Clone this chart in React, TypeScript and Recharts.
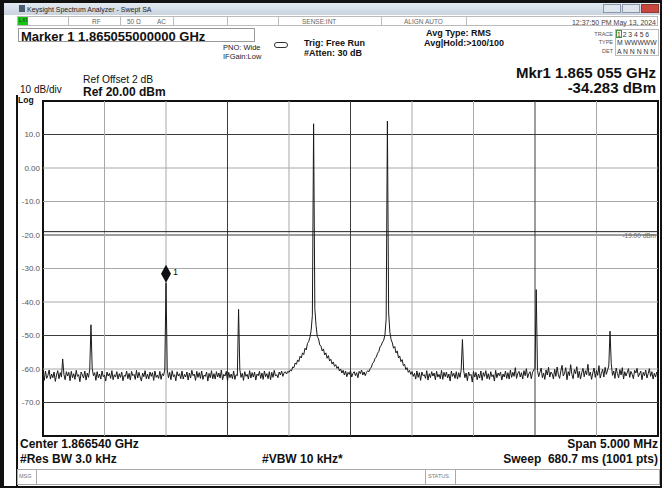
import React from 'react';
import {
  LineChart,
  Line,
  XAxis,
  YAxis,
  ReferenceLine,
  ReferenceArea,
  ReferenceDot,
} from 'recharts';

// sweep: center 1.866540 GHz, span 5 MHz, shown in MHz
const FREQ_START = 1864.04;
const FREQ_STOP = 1869.04;
const FREQ_STEP = 0.01;

// trace 1 levels in dBm, one per sweep step (501 steps)
const levels = [
  -61.2, -63.4, -60.6, -62.8, -61.9, -60.3, -63.0, -61.5, -62.6, -60.9, -63.7, -61.8, -60.5, -62.9, -61.1, -62.4, -57.0, -61.6, -63.2, -60.8,
  -62.1, -61.0, -63.5, -60.7, -62.6, -61.4, -63.1, -60.4, -62.2, -61.7, -63.8, -60.9, -61.8, -62.7, -60.6, -63.3, -61.2, -62.5, -60.1, -46.8,
  -59.8, -62.0, -61.1, -63.4, -60.8, -62.6, -61.5, -63.0, -60.6, -62.3, -61.8, -63.6, -60.9, -62.1, -61.3, -62.8, -60.5, -63.2, -61.7, -62.4,
  -60.8, -63.0, -61.4, -62.5, -60.9, -63.5, -61.9, -62.2, -60.6, -62.9, -61.3, -63.3, -60.7, -62.0, -61.6, -63.1, -60.4, -62.7, -61.0, -62.4,
  -63.6, -61.2, -62.3, -60.5, -62.9, -61.5, -63.0, -60.9, -62.2, -61.1, -63.4, -60.6, -62.5, -61.8, -62.8, -60.7, -63.1, -61.4, -62.0, -60.3,
  -34.283, -60.2, -62.6, -61.0, -63.2, -60.5, -62.3, -61.7, -63.5, -60.8, -62.1, -61.4, -62.9, -60.6, -63.0, -61.6, -62.4, -60.9, -63.3, -61.2,
  -62.7, -60.4, -62.0, -61.5, -63.4, -60.7, -62.5, -61.1, -62.8, -60.6, -63.1, -61.8, -62.2, -60.9, -63.6, -61.3, -62.6, -60.5, -62.9, -61.4,
  -63.0, -60.8, -62.4, -61.2, -62.7, -60.3, -63.2, -61.6, -62.1, -60.7, -63.5, -61.0, -62.6, -61.5, -62.9, -60.6, -63.1, -61.7, -62.0, -42.2,
  -60.1, -62.5, -61.3, -63.4, -60.8, -62.2, -61.6, -63.0, -60.5, -62.7, -61.1, -62.4, -60.9, -63.3, -61.5, -62.0, -60.7, -62.8, -61.2, -63.1,
  -60.6, -62.3, -61.4, -62.9, -60.8, -63.2, -61.0, -62.5, -60.4, -62.1, -61.7, -62.6, -60.9, -61.8, -60.6, -62.2, -61.1, -60.8, -61.5, -60.7,
  -61.0, -60.3, -60.6, -59.4, -59.6, -58.2, -58.6, -57.3, -57.8, -56.2, -56.7, -55.2, -55.7, -53.8, -54.3, -52.4, -51.8, -50.6, -48.5, -44.0,
  13.2, -42.0, -47.0, -50.3, -51.0, -52.8, -53.2, -54.6, -54.0, -55.8, -55.2, -56.8, -56.0, -57.6, -57.1, -58.5, -57.9, -59.2, -58.7, -59.8,
  -59.3, -60.6, -60.0, -61.2, -60.4, -61.8, -60.6, -62.3, -61.0, -61.6, -60.5, -62.4, -61.3, -60.8, -62.0, -61.1, -62.6, -60.7, -61.4, -60.3,
  -61.8, -60.9, -62.0, -61.0, -60.5, -60.8, -59.9, -59.4, -58.3, -57.9, -56.8, -56.4, -55.3, -54.8, -53.4, -52.9, -52.0, -51.4, -49.8, -45.0,
  14.0, -43.0, -49.0, -51.2, -52.2, -53.8, -53.3, -55.2, -54.6, -56.7, -56.1, -57.8, -57.2, -59.0, -58.6, -60.2, -59.6, -61.0, -60.4, -61.6,
  -60.8, -62.2, -61.3, -63.0, -60.6, -62.5, -61.1, -63.4, -60.9, -62.0, -61.7, -62.8, -60.5, -63.3, -61.4, -62.6, -60.8, -62.1, -61.2, -63.2,
  -60.7, -62.4, -61.6, -62.9, -60.4, -63.1, -61.0, -62.3, -60.9, -62.7, -61.5, -63.6, -60.6, -62.2, -61.3, -62.8, -60.8, -63.0, -61.1, -62.5,
  -60.2, -51.2, -60.5, -62.6, -61.2, -63.5, -60.9, -62.0, -61.6, -63.9, -60.7, -62.4, -61.0, -63.2, -61.5, -62.7, -60.6, -63.4, -61.1, -62.2,
  -60.5, -62.9, -61.4, -63.1, -60.8, -62.3, -61.7, -63.6, -60.4, -62.6, -61.2, -62.0, -60.9, -63.3, -61.5, -62.4, -60.6, -62.8, -61.1, -63.0,
  -60.3, -62.5, -61.0, -62.2, -59.6, -62.8, -61.3, -60.7, -62.4, -61.1, -63.0, -60.5, -62.0, -59.9, -62.6, -61.4, -60.8, -62.9, -61.0, -60.2,
  -59.8, -36.3, -60.4, -62.3, -61.0, -59.7, -62.6, -61.2, -63.1, -60.3, -61.8, -59.5, -62.4, -60.9, -61.5, -63.0, -60.1, -62.2, -59.4, -61.7,
  -62.8, -60.6, -58.9, -62.1, -61.3, -59.6, -63.2, -60.8, -62.0, -58.7, -61.6, -62.9, -60.2, -61.4, -59.3, -62.6, -60.7, -63.0, -61.1, -59.8,
  -62.3, -60.5, -61.7, -58.6, -62.0, -60.9, -63.1, -61.2, -59.7, -62.5, -60.4, -61.9, -59.0, -62.7, -61.3, -60.1, -62.4, -59.5, -61.6, -60.3,
  -59.1, -48.7, -58.4, -61.9, -60.6, -62.8, -59.7, -61.4, -62.6, -60.2, -61.8, -59.6, -63.0, -60.8, -62.1, -61.0, -59.9, -62.5, -60.7, -61.6,
  -62.9, -60.4, -61.2, -59.8, -62.3, -61.5, -60.6, -63.2, -61.0, -62.0, -60.3, -62.7, -61.4, -59.9, -62.2, -60.8, -63.0, -61.3, -62.4, -60.9,
  -61.8,
];

const yTicks = [10, 0, -10, -20, -30, -40, -50, -60, -70];
const yTickLabels = ['10.0', '0.00', '-10.0', '-20.0', '-30.0', '-40.0', '-50.0', '-60.0', '-70.0'];
const yLineDark = [true, false, false, true, false, false, true, false, true];

const divFreqs = [1864.54, 1865.04, 1865.54, 1866.04, 1866.54, 1867.04, 1867.54, 1868.04, 1868.54];
const divDark = [false, false, true, false, true, false, false, true, false];

const markerIndex = 100;
const markerLevel = -34.283;
const threshold = -19;

const data = levels.map((v, i) => ({ f: FREQ_START + i * FREQ_STEP, v }));

const txt = (x: number, y: number, s: string, style: React.CSSProperties = {}) => (
  <div style={{ position: 'absolute', left: x, top: y, whiteSpace: 'nowrap', lineHeight: 1, ...style }}>{s}</div>
);

const rtxt = (right: number, y: number, s: string, style: React.CSSProperties = {}) => (
  <div style={{ position: 'absolute', right, top: y, whiteSpace: 'pre', lineHeight: 1, ...style }}>{s}</div>
);

const MarkerShape = (props: any) => {
  const { cx, cy } = props;
  return (
    <g>
      <polygon points={`${cx},${cy - 18} ${cx + 5},${cy - 9} ${cx},${cy} ${cx - 5},${cy - 9}`} fill="#111" />
      <text x={cx + 7} y={cy - 8} fontSize={9} fill="#111" fontFamily="Liberation Sans, Arial">1</text>
    </g>
  );
};

const App = () => {
  return (
    <div
      style={{
        position: 'absolute',
        left: 0,
        top: 0,
        width: 662,
        height: 488,
        background: '#fff',
        overflow: 'hidden',
        fontFamily: '"Liberation Sans", Arial, sans-serif',
        color: '#111',
      }}
    >
      {/* window frame */}
      <div style={{ position: 'absolute', left: 0, top: 0, width: 662, height: 3, background: '#111' }} />
      <div style={{ position: 'absolute', left: 0, top: 0, width: 4, height: 488, background: '#111' }} />
      <div style={{ position: 'absolute', left: 660, top: 0, width: 2, height: 488, background: '#111' }} />
      <div style={{ position: 'absolute', left: 0, top: 486, width: 662, height: 2, background: '#111' }} />

      {/* title bar */}
      <div
        style={{
          position: 'absolute',
          left: 4,
          top: 3,
          width: 656,
          height: 12,
          background: 'linear-gradient(#e4eaf2, #c8d2de)',
        }}
      />
      <div style={{ position: 'absolute', left: 19, top: 5, width: 6, height: 7, background: '#4a5a70' }} />
      {txt(27, 6, 'Keysight Spectrum Analyzer - Swept SA', { fontSize: 7, color: '#222' })}
      <div style={{ position: 'absolute', left: 603, top: 4, width: 18, height: 9, background: '#dfe5ee', border: '1px solid #8a97a8', boxSizing: 'border-box' }} />
      <div style={{ position: 'absolute', left: 622, top: 4, width: 18, height: 9, background: '#dfe5ee', border: '1px solid #8a97a8', boxSizing: 'border-box' }} />
      <div style={{ position: 'absolute', left: 641, top: 4, width: 18, height: 9, background: '#c9463d', border: '1px solid #8a3a33', boxSizing: 'border-box' }} />

      {/* status row */}
      <div style={{ position: 'absolute', left: 17, top: 16, width: 641, height: 10, border: '1px solid #bbb', boxSizing: 'border-box' }} />
      <div style={{ position: 'absolute', left: 18, top: 17, width: 10, height: 8, background: '#19c419' }} />
      {txt(19, 18, 'LXI', { fontSize: 5.5, color: '#114411' })}
      {[68, 120, 173, 227, 278, 381, 466].map((x) => (
        <div key={x} style={{ position: 'absolute', left: x, top: 16, width: 1, height: 10, background: '#bbb' }} />
      ))}
      {txt(92, 18.5, 'RF', { fontSize: 6.5, color: '#666' })}
      {txt(127, 18.5, '50 Ω', { fontSize: 6.5, color: '#666' })}
      {txt(157, 18.5, 'AC', { fontSize: 6.5, color: '#666' })}
      {txt(302, 18.5, 'SENSE:INT', { fontSize: 6.5, color: '#666' })}
      {txt(404, 18.5, 'ALIGN AUTO', { fontSize: 6.5, color: '#666' })}
      {rtxt(6, 18.5, '12:37:50 PM May 13, 2024', { fontSize: 7, color: '#444' })}

      {/* marker entry */}
      <div style={{ position: 'absolute', left: 18, top: 28, width: 237, height: 14, border: '1px solid #999', boxSizing: 'border-box' }} />
      {txt(21, 29.5, 'Marker 1 1.865055000000 GHz', { fontSize: 13, fontWeight: 'bold' })}

      {txt(223, 43.5, 'PNO: Wide', { fontSize: 7.5, color: '#222' })}
      {txt(223, 53, 'IFGain:Low', { fontSize: 7.5, color: '#222' })}
      <div style={{ position: 'absolute', left: 274, top: 42, width: 14, height: 6, border: '1px solid #333', borderRadius: 4, boxSizing: 'border-box' }} />
      {txt(304, 38.5, 'Trig: Free Run', { fontSize: 9, fontWeight: 'bold' })}
      {txt(304, 48.5, '#Atten: 30 dB', { fontSize: 9, fontWeight: 'bold' })}
      {txt(426, 28.5, 'Avg Type: RMS', { fontSize: 9, fontWeight: 'bold' })}
      {txt(424, 38.5, 'Avg|Hold:>100/100', { fontSize: 9, fontWeight: 'bold' })}

      {/* trace table */}
      <div style={{ position: 'absolute', left: 566, top: 29.5, width: 47, textAlign: 'right', fontSize: 5.5, color: '#555', lineHeight: '8.5px' }}>
        TRACE<br />TYPE<br />DET
      </div>
      <div style={{ position: 'absolute', left: 615, top: 29, width: 44, height: 27, border: '1px solid #bbb', boxSizing: 'border-box' }} />
      <div style={{ position: 'absolute', left: 616, top: 30, width: 6, height: 8, border: '1px solid #3a9a3a', boxSizing: 'border-box' }} />
      <div style={{ position: 'absolute', left: 617, top: 30.5, fontSize: 6.8, color: '#333', lineHeight: '8.5px', whiteSpace: 'pre' }}>
        {'1 2 3 4 5 6\nM WWWWW\nA N N N N N'}
      </div>

      {rtxt(6, 64.5, 'Mkr1 1.865 055 GHz', { fontSize: 15, fontWeight: 'bold' })}
      {rtxt(6, 80, '-34.283 dBm', { fontSize: 15, fontWeight: 'bold' })}

      {txt(83, 75, 'Ref Offset 2 dB', { fontSize: 10.3 })}
      {txt(83, 85.5, 'Ref 20.00 dBm', { fontSize: 12, fontWeight: 'bold' })}
      {txt(20, 85, '10 dB/div', { fontSize: 10 })}
      {txt(18, 95.5, 'Log', { fontSize: 8.5, fontWeight: 'bold' })}

      <div style={{ position: 'absolute', left: 16, top: 95, width: 1.5, height: 391, background: '#111' }} />

      <div style={{ position: 'absolute', left: 0, top: 0 }}>
        <LineChart width={662} height={488} data={data} margin={{ top: 101, right: 4, bottom: 52, left: 0 }}>
          <XAxis type="number" dataKey="f" domain={[FREQ_START, FREQ_STOP]} hide />
          <YAxis
            type="number"
            domain={[-80, 20]}
            ticks={yTicks}
            interval={0}
            width={43}
            axisLine={false}
            tickLine={false}
            tickSize={0}
            tickMargin={3}
            tick={{ fontSize: 8, fill: '#555', fontFamily: 'Liberation Sans, Arial' }}
            tickFormatter={(v: number) => yTickLabels[yTicks.indexOf(v)] ?? ''}
          />
          {yTicks.map((t, i) => (
            <ReferenceLine key={'h' + t} y={t} stroke={yLineDark[i] ? '#3c3c3c' : '#a8a8a8'} strokeWidth={1} />
          ))}
          {divFreqs.map((f, i) => (
            <ReferenceLine key={'v' + f} x={f} stroke={divDark[i] ? '#3c3c3c' : '#a8a8a8'} strokeWidth={1} />
          ))}
          <ReferenceLine
            y={threshold}
            stroke="#222"
            strokeWidth={1}
            label={{ value: '-19.00 dBm', position: 'insideTopRight', fontSize: 6.5, fill: '#666', offset: 2 }}
          />
          <Line
            type="linear"
            dataKey="v"
            stroke="#1a1a1a"
            strokeWidth={1}
            dot={false}
            isAnimationActive={false}
          />
          <ReferenceDot x={data[markerIndex].f} y={markerLevel} r={0} shape={MarkerShape} />
          <ReferenceArea
            x1={FREQ_START}
            x2={FREQ_STOP}
            y1={-80}
            y2={20}
            fill="none"
            fillOpacity={0}
            stroke="#111"
            strokeWidth={2}
          />
        </LineChart>
      </div>

      {/* footer */}
      {txt(20, 438, 'Center 1.866540 GHz', { fontSize: 12, fontWeight: 'bold' })}
      {rtxt(4, 438, 'Span 5.000 MHz', { fontSize: 12, fontWeight: 'bold' })}
      {txt(20, 453, '#Res BW 3.0 kHz', { fontSize: 12, fontWeight: 'bold' })}
      {txt(262, 453, '#VBW 10 kHz*', { fontSize: 12, fontWeight: 'bold' })}
      {rtxt(4, 453, 'Sweep  680.7 ms (1001 pts)', { fontSize: 12, fontWeight: 'bold' })}

      <div style={{ position: 'absolute', left: 17, top: 469, width: 643, height: 16, border: '1px solid #aaa', background: '#fff', boxSizing: 'border-box' }} />
      <div style={{ position: 'absolute', left: 36, top: 469, width: 1, height: 16, background: '#aaa' }} />
      <div style={{ position: 'absolute', left: 425, top: 469, width: 1, height: 16, background: '#aaa' }} />
      <div style={{ position: 'absolute', left: 455, top: 469, width: 1, height: 16, background: '#aaa' }} />
      {txt(19, 474, 'MSG', { fontSize: 5.5, color: '#777' })}
      {txt(428, 474, 'STATUS', { fontSize: 5.5, color: '#777' })}
    </div>
  );
};

export default App;
